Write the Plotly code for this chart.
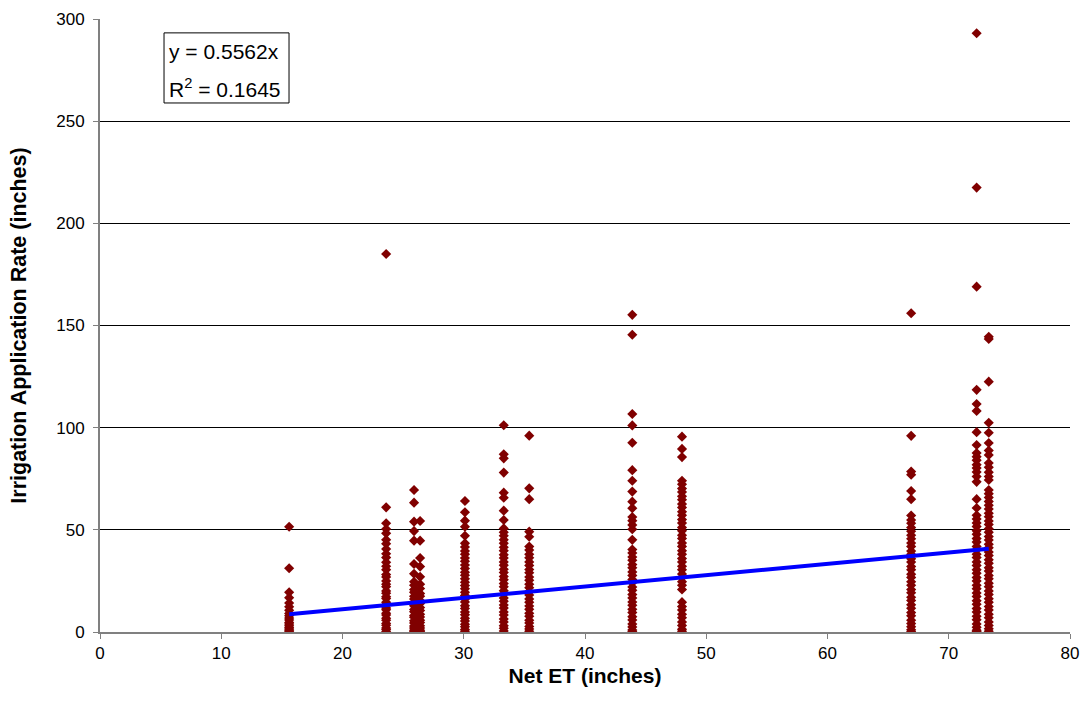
import plotly.graph_objects as go

# Net ET (inches) for each station group
net_et = [15.6, 23.6, 25.9, 26.4, 30.1, 33.3, 35.4, 43.9, 48.0, 66.9, 72.3, 73.3]

# Irrigation application rate (inches) observed at each Net ET value
rate_15_6 = [51.5, 31.2, 19.4, 16.8, 14.2, 12.3, 10.6, 9.1, 8.0, 6.8, 5.9, 4.7,
             3.9, 3.1, 2.2, 1.5, 0.9, 0.3]
rate_23_6 = [185.0, 61.0, 53.2, 50.4, 48.3, 45.1, 43.2, 40.6, 38.3, 36.4, 34.1,
             32.2, 30.5, 28.1, 26.9, 25.0, 23.4, 22.2, 20.1, 19.0, 17.3, 16.4,
             14.6, 13.5, 11.8, 10.9, 9.2, 8.3, 6.7, 5.8, 4.2, 3.3, 2.0, 1.2, 0.3]
rate_25_9 = [69.5, 63.3, 54.0, 49.4, 44.7, 33.3, 28.5, 24.6, 22.9, 20.8, 19.4,
             17.5, 16.1, 14.2, 12.8, 11.0, 9.9, 8.1, 7.2, 5.5, 4.4, 2.9, 1.9,
             0.8, 0.2]
rate_26_4 = [54.3, 44.7, 36.2, 32.0, 27.0, 23.4, 21.3, 18.9, 17.5, 15.4, 14.0,
             12.0, 10.5, 8.7, 7.4, 5.8, 4.6, 3.0, 2.0, 0.9, 0.2]
rate_30_1 = [64.1, 58.6, 54.5, 51.5, 47.1, 43.4, 41.6, 39.7, 38.1, 36.2, 34.6,
             32.8, 31.1, 29.3, 27.8, 26.0, 24.4, 22.7, 21.2, 19.4, 17.9, 16.1,
             14.7, 12.9, 11.5, 9.8, 8.4, 6.7, 5.4, 3.8, 2.6, 1.2, 0.4]
rate_33_3 = [101.2, 87.0, 85.0, 78.0, 68.2, 65.7, 59.4, 54.8, 50.7, 48.8, 47.1,
             45.1, 43.4, 41.5, 39.8, 37.8, 36.2, 34.3, 32.7, 30.7, 29.1, 27.2,
             25.6, 23.7, 22.1, 20.2, 18.6, 16.7, 15.1, 13.2, 11.7, 9.8, 8.3,
             6.4, 4.9, 3.1, 1.8, 0.5]
rate_35_4 = [96.1, 70.3, 65.0, 49.1, 46.6, 41.8, 40.1, 38.0, 36.3, 34.3, 32.6,
             30.6, 29.0, 26.9, 25.3, 23.4, 21.7, 19.7, 18.1, 16.2, 14.6, 12.7,
             11.1, 9.2, 7.7, 5.8, 4.4, 2.7, 1.5, 0.4]
rate_43_9 = [155.2, 145.5, 106.7, 101.1, 92.6, 79.2, 74.0, 68.7, 63.8, 60.6,
             56.3, 54.5, 52.4, 50.3, 45.1, 40.4, 38.7, 36.7, 35.1, 33.0, 31.4,
             29.4, 27.7, 25.7, 24.1, 22.0, 20.4, 18.4, 16.7, 14.7, 13.1, 11.1,
             9.5, 7.5, 5.9, 3.9, 2.5, 1.0, 0.3]
rate_48_0 = [95.6, 89.6, 85.6, 74.0, 72.3, 70.2, 68.5, 66.4, 64.7, 62.6, 60.9,
             58.8, 57.1, 55.0, 53.3, 51.2, 49.5, 47.4, 45.7, 43.6, 41.9, 39.8,
             38.1, 36.0, 34.3, 32.2, 30.5, 28.4, 26.7, 24.6, 22.9, 20.8, 14.6,
             12.5, 10.8, 8.7, 7.0, 4.9, 3.2, 1.4, 0.4]
rate_66_9 = [156.0, 96.0, 78.5, 77.0, 69.0, 65.0, 57.0, 54.8, 53.2, 51.1, 49.3,
             47.4, 45.6, 43.5, 41.8, 39.6, 38.0, 35.9, 34.2, 32.1, 30.5, 28.3,
             26.7, 24.6, 22.9, 20.8, 19.2, 17.0, 15.4, 13.3, 11.6, 9.5, 7.9,
             5.8, 4.1, 2.6, 1.1, 0.3]
rate_72_3 = [293.0, 217.5, 169.0, 118.5, 111.6, 108.2, 97.8, 91.5, 87.6, 85.8,
             84.1, 81.9, 80.2, 78.3, 76.1, 73.5, 65.0, 60.7, 57.1, 55.3, 53.4,
             51.6, 49.5, 47.8, 45.7, 44.0, 41.9, 40.2, 38.1, 36.4, 34.3, 32.6,
             30.5, 28.8, 26.7, 25.0, 22.9, 21.2, 19.1, 17.4, 15.3, 13.6, 11.5,
             9.8, 7.7, 6.0, 3.9, 2.3, 0.9, 0.2]
rate_73_3 = [144.5, 143.4, 122.5, 102.4, 97.5, 92.5, 88.8, 86.6, 82.7, 80.6,
             78.2, 76.1, 74.4, 69.5, 67.7, 65.8, 63.9, 62.0, 60.2, 58.1, 56.4,
             54.3, 52.6, 50.5, 48.8, 46.7, 45.0, 42.9, 41.2, 39.1, 37.4, 35.3,
             33.6, 31.5, 29.8, 27.7, 26.0, 23.9, 22.2, 20.1, 18.4, 16.3, 14.6,
             12.5, 10.8, 8.7, 7.0, 4.9, 3.2, 1.6, 0.4]

rates = [rate_15_6, rate_23_6, rate_25_9, rate_26_4, rate_30_1, rate_33_3,
         rate_35_4, rate_43_9, rate_48_0, rate_66_9, rate_72_3, rate_73_3]

# Linear trend through the origin
slope = 0.5562
r_squared = 0.1645

xs, ys = [], []
for x_val, group in zip(net_et, rates):
    xs.extend([x_val] * len(group))
    ys.extend(group)

trend_x = [min(net_et), max(net_et)]
trend_y = [slope * v for v in trend_x]

FONT = "Arial, Liberation Sans, sans-serif"

fig = go.Figure()
fig.add_trace(go.Scatter(
    x=xs, y=ys, mode="markers",
    marker=dict(symbol="diamond", size=7.8, color="#800000",
                line=dict(width=0)),
    showlegend=False, hoverinfo="x+y",
))
fig.add_trace(go.Scatter(
    x=trend_x, y=trend_y, mode="lines",
    line=dict(color="#0000FF", width=4),
    showlegend=False, hoverinfo="skip",
))

# Equation box in the upper-left corner
fig.add_shape(type="rect", xref="x", yref="y",
              x0=5.28, x1=15.59, y0=258.9, y1=293.2,
              line=dict(color="#000000", width=1), fillcolor="#FFFFFF",
              layer="above")
fig.add_annotation(
    x=5.5, y=284.0, xref="x", yref="y", xanchor="left", yanchor="middle",
    text=f"y = {slope}x", showarrow=False,
    font=dict(family=FONT, size=21, color="#000000"),
)
fig.add_annotation(
    x=5.5, y=266.4, xref="x", yref="y", xanchor="left", yanchor="middle",
    text=f"R<sup>2</sup> = {r_squared}", showarrow=False,
    font=dict(family=FONT, size=21, color="#000000"),
)

fig.update_layout(
    width=1085, height=718,
    margin=dict(l=100, r=15, t=19, b=86),
    paper_bgcolor="#FFFFFF", plot_bgcolor="#FFFFFF",
    font=dict(family=FONT, size=17, color="#000000"),
)
fig.update_xaxes(
    range=[0, 80], dtick=10, tick0=0, automargin=False,
    showgrid=False, zeroline=False,
    showline=True, linecolor="#808080", linewidth=2,
    ticks="outside", ticklen=5, tickcolor="#808080", tickwidth=1,
    tickfont=dict(family=FONT, size=17),
    title=dict(text="<b>Net ET (inches)</b>", standoff=6,
               font=dict(family=FONT, size=21)),
)
fig.update_yaxes(
    range=[0, 300], dtick=50, tick0=0, automargin=False,
    showgrid=True, gridcolor="#000000", gridwidth=1, zeroline=False,
    showline=True, linecolor="#808080", linewidth=2,
    ticks="outside", ticklen=5, tickcolor="#808080", tickwidth=1,
    ticklabelstandoff=5,
    tickfont=dict(family=FONT, size=17),
    title=dict(text="<b>Irrigation Application Rate (inches)</b>", standoff=24,
               font=dict(family=FONT, size=21.5)),
)

fig.write_html("out.html")
